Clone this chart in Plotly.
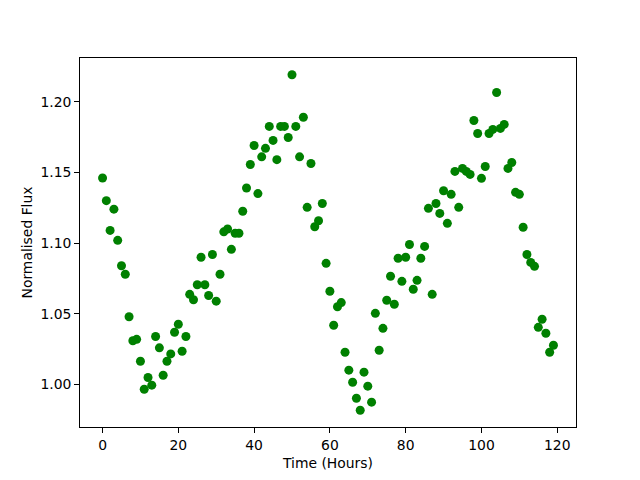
import numpy as np
import plotly.graph_objects as go

hours = list(range(120))
flux = [
    1.146, 1.130, 1.109, 1.124, 1.102, 1.084, 1.078, 1.048, 1.031, 1.032,
    1.0165, 0.9967, 1.005, 0.9996, 1.034, 1.026, 1.0066, 1.0165, 1.0217, 1.037,
    1.0427, 1.0236, 1.034, 1.0638, 1.060, 1.0706, 1.090, 1.0706, 1.063, 1.092,
    1.059, 1.078, 1.108, 1.110, 1.0956, 1.107, 1.107, 1.1225, 1.139, 1.1556,
    1.169, 1.135, 1.161, 1.167, 1.1825, 1.1726, 1.159, 1.1825, 1.1825, 1.1747,
    1.219, 1.1825, 1.161, 1.189, 1.1253, 1.1563, 1.1116, 1.1158, 1.128, 1.0857,
    1.066, 1.042, 1.055, 1.058, 1.0229, 1.0102, 1.0017, 0.9904, 0.9819, 1.0088,
    0.9989, 0.9876, 1.0504, 1.0243, 1.0398, 1.0596, 1.0766, 1.0568, 1.0893, 1.073,
    1.090, 1.099, 1.0674, 1.0737, 1.0893, 1.0977, 1.1246, 1.0638, 1.128, 1.121,
    1.137, 1.114, 1.1345, 1.1507, 1.1253, 1.1528, 1.1507, 1.1486, 1.1867, 1.1775,
    1.1458, 1.1542, 1.1775, 1.1804, 1.2065, 1.1811, 1.1839, 1.1528, 1.157, 1.1359,
    1.1345, 1.1112, 1.092, 1.0864, 1.0836, 1.0405, 1.0462, 1.0363, 1.0229, 1.0278,
]
x_ticks = [0, 20, 40, 60, 80, 100, 120]
y_ticks = [1.00, 1.05, 1.10, 1.15, 1.20]

xmin, xmax = min(hours), max(hours)
ymin, ymax = min(flux), max(flux)
xm = 0.05 * (xmax - xmin)
ym = 0.05 * (ymax - ymin)

fig = go.Figure(go.Scatter(
    x=hours, y=flux, mode="markers",
    marker=dict(color="#008000", size=9, line=dict(width=0)),
))

font = dict(family="DejaVu Sans", size=13.9, color="black")
axis_common = dict(
    showgrid=False, zeroline=False, showline=True, linecolor="black",
    linewidth=1, mirror=True, ticks="outside", ticklen=4.9, tickwidth=1,
    tickcolor="black", tickfont=font,
)
fig.update_layout(
    width=632, height=472,
    margin=dict(l=72, r=64, t=50, b=53),
    paper_bgcolor="white", plot_bgcolor="white",
    showlegend=False,
    font=font,
    xaxis=dict(range=[xmin - xm, xmax + xm], tickvals=x_ticks,
               ticktext=[str(v) for v in x_ticks],
               title=dict(text="Time (Hours)", font=font, standoff=6),
               **axis_common),
    yaxis=dict(range=[ymin - ym, ymax + ym], tickvals=y_ticks,
               ticktext=[f"{v:.2f}" for v in y_ticks],
               title=dict(text="Normalised Flux", font=font, standoff=4),
               **axis_common),
)
fig.write_html("out.html")
